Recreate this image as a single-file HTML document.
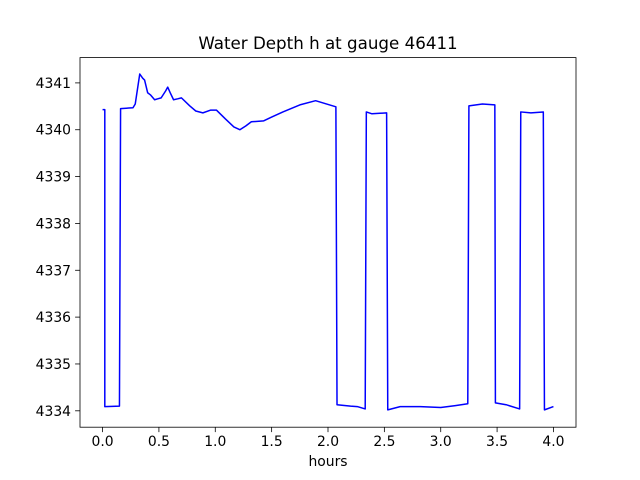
<!DOCTYPE html>
<html><head><meta charset="utf-8"><style>
body{margin:0;background:#fff}
svg{display:block;font-family:"DejaVu Sans","Liberation Sans",sans-serif}
</style></head><body>
<svg id="chart" width="640" height="480"></svg>
<script>
const xs=[0,0.02,0.02,0.15,0.16,0.27,0.29,0.33,0.356,0.373,0.4,0.427,0.462,0.49,0.52,0.56,0.578,0.6,0.63,0.667,0.7,0.773,0.827,0.89,0.96,1.01,1.09,1.165,1.218,1.27,1.32,1.43,1.5,1.6,1.75,1.89,2.07,2.08,2.2,2.26,2.33,2.34,2.39,2.52,2.53,2.64,2.82,3.0,3.13,3.24,3.25,3.37,3.48,3.485,3.58,3.7,3.71,3.8,3.91,3.92,4.0];
const ys=[4340.43,4340.43,4334.09,4334.1,4340.45,4340.47,4340.55,4341.19,4341.1,4341.06,4340.79,4340.74,4340.64,4340.66,4340.68,4340.83,4340.91,4340.79,4340.64,4340.66,4340.68,4340.51,4340.4,4340.36,4340.42,4340.42,4340.23,4340.06,4340.0,4340.08,4340.17,4340.19,4340.27,4340.38,4340.53,4340.62,4340.49,4334.13,4334.1,4334.09,4334.04,4340.38,4340.34,4340.36,4334.02,4334.09,4334.09,4334.07,4334.11,4334.15,4340.51,4340.55,4340.53,4334.17,4334.13,4334.04,4340.38,4340.36,4340.38,4334.02,4334.09];
const xTicks=[0,0.5,1,1.5,2,2.5,3,3.5,4];
const xTickLabels=["0.0","0.5","1.0","1.5","2.0","2.5","3.0","3.5","4.0"];
const yTicks=[4334,4335,4336,4337,4338,4339,4340,4341];
const L=80,R=576,T=57.6,B=427.2;
const X=v=>L+(v+0.2)/4.4*(R-L);
const Y=v=>T+(4341.54-v)/(4341.54-4333.65)*(B-T);
const svg=document.getElementById('chart');
const NS='http://www.w3.org/2000/svg';
function mk(t,a,p){const e=document.createElementNS(NS,t);for(const k in a)e.setAttribute(k,a[k]);(p||svg).appendChild(e);return e;}
let d=xs.map((x,i)=>(i?'L':'M')+X(x).toFixed(2)+','+Y(ys[i]).toFixed(2)).join('');
const line=mk('path',{d:d,fill:'none',stroke:'#0000ff','stroke-width':1.5,'stroke-linejoin':'round'});


const frame=mk('rect',{x:L,y:T,width:R-L,height:B-T,fill:'none',stroke:'#000','stroke-width':0.8});


xTicks.forEach((v,i)=>{
 mk('line',{x1:X(v),x2:X(v),y1:B,y2:B+4.9,stroke:'#000','stroke-width':0.8});
 const t=mk('text',{x:X(v),y:B+19,'text-anchor':'middle','font-size':13.9});
 t.textContent=xTickLabels[i];
 
 
});
yTicks.forEach(v=>{
 mk('line',{x1:L-4.9,x2:L,y1:Y(v),y2:Y(v),stroke:'#000','stroke-width':0.8});
 const t=mk('text',{x:L-9,y:Y(v)+5,'text-anchor':'end','font-size':13.9});
 t.textContent=v;
 
 
});
const xl=mk('text',{x:(L+R)/2,y:466,'text-anchor':'middle','font-size':13.9});
xl.textContent='hours';


const ti=mk('text',{x:(L+R)/2,y:49,'text-anchor':'middle','font-size':16.7});
ti.textContent='Water Depth h at gauge 46411';


</script>
</body></html>
